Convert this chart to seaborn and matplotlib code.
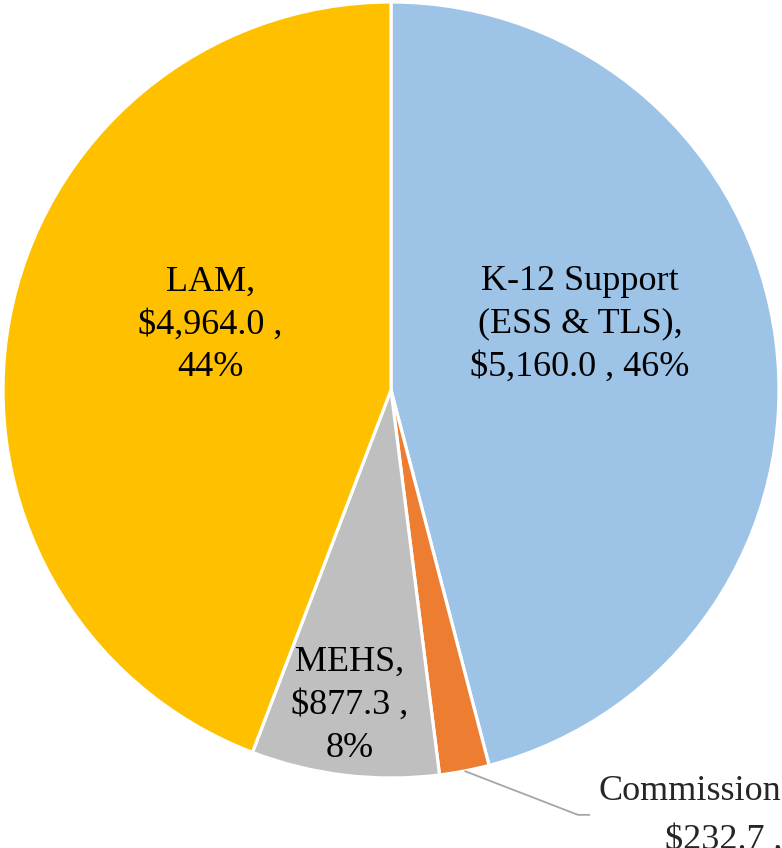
import numpy as np
import seaborn as sns
import matplotlib.pyplot as plt

sns.set_theme(style="white")
plt.rcParams['font.family'] = ['Liberation Serif', 'DejaVu Serif']

categories = ["K-12 Support\n(ESS & TLS)", "Commission", "MEHS", "LAM"]
amounts = [5160.0, 232.7, 877.3, 4964.0]
colors = ["#9DC3E6", "#ED7D31", "#BFBFBF", "#FFC000"]

# label centres in pie-radius units (Excel "best fit" placement)
label_pos = [(0.487, 0.170), None, (-0.106, -0.812), (-0.466, 0.168)]

fig = plt.figure(figsize=(7.82, 8.48), dpi=100)
ax = fig.add_axes([0, 0, 1, 1])

wedges, _ = ax.pie(amounts, colors=colors, startangle=90, counterclock=False,
                   radius=1.0, wedgeprops=dict(edgecolor="white", linewidth=2.3))

total = sum(amounts)
for i, (name, val) in enumerate(zip(categories, amounts)):
    pct = round(val / total * 100)
    if label_pos[i] is None:
        continue
    if name in ("LAM", "MEHS"):
        txt = f"{name},\n${val:,.1f} ,\n{pct}%"
    else:
        txt = f"{name},\n${val:,.1f} , {pct}%"
    x, y = label_pos[i]
    ax.text(x, y, txt, ha="center", va="center", fontsize=26,
            color="black", linespacing=1.4)

# Commission: outside label with leader line
w = wedges[1]
mid = np.deg2rad((w.theta1 + w.theta2) / 2)
sx, sy = np.cos(mid) * 1.0, np.sin(mid) * 1.0
ax.plot([sx, 0.482, 0.513], [sy, -1.095, -1.095], color="#A6A6A6", lw=1.3,
        solid_capstyle="butt")
pct_c = round(amounts[1] / total * 100)
ax.text(0.534, -1.034, f"{categories[1]},", ha="left", va="center", fontsize=26)
ax.text(0.706, -1.160, f"${amounts[1]:,.1f} , {pct_c}%", ha="left", va="center",
        fontsize=26)

ax.set_xlim(-391 / 388, 391 / 388)
ax.set_ylim(-(848 - 390) / 388, 390 / 388)
ax.set_aspect("equal")
ax.axis("off")

fig.savefig("out.png", dpi=100)
